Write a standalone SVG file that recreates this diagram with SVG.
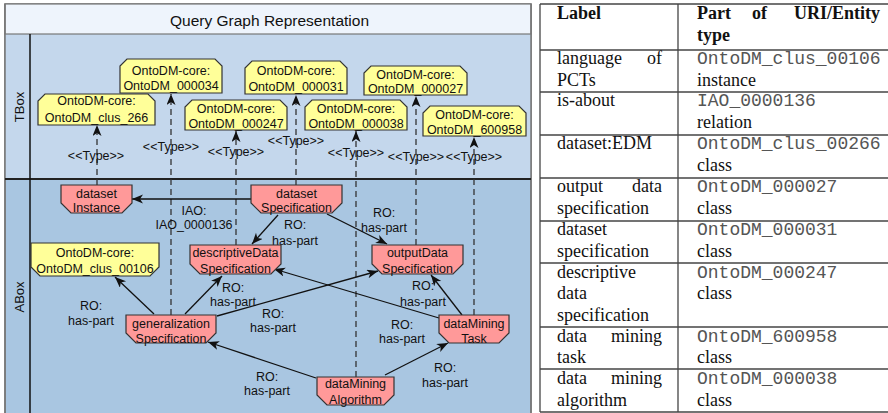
<svg xmlns="http://www.w3.org/2000/svg" width="888" height="413" viewBox="0 0 888 413">
<defs>
<style>
.lbl{font-family:"Liberation Sans",Arial,sans-serif;font-size:12.5px;fill:#111;text-anchor:middle}
.yel{fill:#ffff99;stroke:#333;stroke-width:1.2}
.pink{fill:#ff9999;stroke:#333;stroke-width:1.2}
.dash{stroke:#333;stroke-width:1.3;stroke-dasharray:6 4;fill:none}
.edge{stroke:#111;stroke-width:1.3;fill:none}
.tb{font-family:"Liberation Serif","Times New Roman",serif;font-size:18px;fill:#111}
.tbb{font-family:"Liberation Serif","Times New Roman",serif;font-size:18px;font-weight:bold;fill:#111}
.mono{font-family:"Liberation Mono","Courier New",monospace;font-size:18px;fill:#555}
.tl{stroke:#444;stroke-width:1.3}
</style>
<marker id="arr" markerWidth="12" markerHeight="10" refX="11" refY="4.5" orient="auto" markerUnits="userSpaceOnUse">
<path d="M0,0 L11,4.5 L0,9 L3,4.5 Z" fill="#111"/>
</marker>
</defs>

<g id="frame">
<rect x="5" y="4" width="526" height="415" fill="#a9c6e1" stroke="#777" stroke-width="1.5"/>
<rect x="5" y="34" width="526" height="145" fill="#c4d7ec"/>
<rect x="5" y="4" width="526" height="30" fill="#eef4fc" stroke="#777" stroke-width="1.2"/>
<line x1="5" y1="4" x2="5" y2="413" stroke="#777" stroke-width="1.5"/>
<line x1="531" y1="4" x2="531" y2="413" stroke="#777" stroke-width="1.5"/>
<line x1="5" y1="179" x2="531" y2="179" stroke="#222" stroke-width="2"/>
<line x1="30" y1="34" x2="30" y2="413" stroke="#111" stroke-width="1.5"/>
<text x="269.5" y="26" style="font-family:'Liberation Sans',Arial,sans-serif;font-size:15.5px;fill:#111;text-anchor:middle">Query Graph Representation</text>
<text transform="translate(24,107) rotate(-90)" style="font-family:'Liberation Sans',Arial,sans-serif;font-size:13px;fill:#111;text-anchor:middle">TBox</text>
<text transform="translate(24,297) rotate(-90)" style="font-family:'Liberation Sans',Arial,sans-serif;font-size:13px;fill:#111;text-anchor:middle">ABox</text>
</g>

<g id="connectors">
<line class="dash" x1="97" y1="185" x2="97" y2="125" marker-end="url(#arr)"/>
<line class="dash" x1="171" y1="315" x2="171" y2="94" marker-end="url(#arr)"/>
<line class="dash" x1="236" y1="245" x2="236" y2="131" marker-end="url(#arr)"/>
<line class="dash" x1="296" y1="185" x2="296" y2="95" marker-end="url(#arr)"/>
<line class="dash" x1="356" y1="377" x2="356" y2="131" marker-end="url(#arr)"/>
<line class="dash" x1="416" y1="245" x2="416" y2="96" marker-end="url(#arr)"/>
<line class="dash" x1="474" y1="315" x2="474" y2="137" marker-end="url(#arr)"/>
<text class="lbl" x="96" y="159.5">&lt;&lt;Type&gt;&gt;</text>
<text class="lbl" x="171" y="150.5">&lt;&lt;Type&gt;&gt;</text>
<text class="lbl" x="236" y="155.5">&lt;&lt;Type&gt;&gt;</text>
<text class="lbl" x="296" y="144.5">&lt;&lt;Type&gt;&gt;</text>
<text class="lbl" x="356" y="156.5">&lt;&lt;Type&gt;&gt;</text>
<text class="lbl" x="416" y="160.5">&lt;&lt;Type&gt;&gt;</text>
<text class="lbl" x="474" y="160.5">&lt;&lt;Type&gt;&gt;</text>

<line class="edge" x1="251" y1="199" x2="132" y2="199" marker-end="url(#arr)"/>
<line class="edge" x1="278" y1="215" x2="252" y2="244" marker-end="url(#arr)"/>
<line class="edge" x1="327" y1="214" x2="387" y2="244" marker-end="url(#arr)"/>
<line class="edge" x1="154" y1="314" x2="115" y2="277" marker-end="url(#arr)"/>
<line class="edge" x1="185" y1="314" x2="222" y2="276" marker-end="url(#arr)"/>
<line class="edge" x1="217" y1="316" x2="378" y2="271" marker-end="url(#arr)"/>
<line class="edge" x1="439" y1="318" x2="274" y2="269" marker-end="url(#arr)"/>
<line class="edge" x1="462" y1="315" x2="431" y2="275" marker-end="url(#arr)"/>
<line class="edge" x1="316" y1="378" x2="208" y2="342" marker-end="url(#arr)"/>
<line class="edge" x1="385" y1="375" x2="448" y2="343" marker-end="url(#arr)"/>

<text class="lbl" x="194" y="214.5">IAO:</text>
<text class="lbl" x="194" y="228.5">IAO_0000136</text>
<text class="lbl" x="295" y="228.5">RO:</text>
<text class="lbl" x="295" y="244.5">has-part</text>
<text class="lbl" x="384" y="216.5">RO:</text>
<text class="lbl" x="384" y="231.5">has-part</text>
<text class="lbl" x="91" y="309.5">RO:</text>
<text class="lbl" x="91" y="324.5">has-part</text>
<text class="lbl" x="233" y="291.5">RO:</text>
<text class="lbl" x="233" y="305.5">has-part</text>
<text class="lbl" x="273" y="317.5">RO:</text>
<text class="lbl" x="273" y="331.5">has-part</text>
<text class="lbl" x="402" y="328.5">RO:</text>
<text class="lbl" x="402" y="342.5">has-part</text>
<text class="lbl" x="423" y="289.5">RO:</text>
<text class="lbl" x="423" y="305.5">has-part</text>
<text class="lbl" x="267" y="380.5">RO:</text>
<text class="lbl" x="267" y="394.5">has-part</text>
<text class="lbl" x="445" y="371.5">RO:</text>
<text class="lbl" x="445" y="386.5">has-part</text>
</g>

<g id="t1"><path class="yel" d="M45,94 L148,94 L155,101 L155,125 L38,125 L38,101 Z"/><text class="lbl" x="96.5" y="105">OntoDM-core:</text><text class="lbl" x="96.5" y="121.5">OntoDM_clus_266</text></g>
<g id="t2"><path class="yel" d="M127,59 L215,59 L222,66 L222,93 L120,93 L120,66 Z"/><text class="lbl" x="171" y="74.5">OntoDM-core:</text><text class="lbl" x="171" y="89.5">OntoDM_000034</text></g>
<g id="t3"><path class="yel" d="M192,100 L280,100 L287,107 L287,130 L185,130 L185,107 Z"/><text class="lbl" x="236" y="112.5">OntoDM-core:</text><text class="lbl" x="236" y="127.5">OntoDM_000247</text></g>
<g id="t4"><path class="yel" d="M252,61 L340,61 L347,68 L347,94 L245,94 L245,68 Z"/><text class="lbl" x="296" y="74.5">OntoDM-core:</text><text class="lbl" x="296" y="90.5">OntoDM_000031</text></g>
<g id="t5"><path class="yel" d="M312,100 L400,100 L407,107 L407,130 L305,130 L305,107 Z"/><text class="lbl" x="356" y="112.5">OntoDM-core:</text><text class="lbl" x="356" y="127.5">OntoDM_000038</text></g>
<g id="t6"><path class="yel" d="M371,66 L460,66 L467,73 L467,95 L364,95 L364,73 Z"/><text class="lbl" x="415.5" y="78.5">OntoDM-core:</text><text class="lbl" x="415.5" y="93">OntoDM_000027</text></g>
<g id="t7"><path class="yel" d="M430,106 L519,106 L526,113 L526,136 L423,136 L423,113 Z"/><text class="lbl" x="474.5" y="118.5">OntoDM-core:</text><text class="lbl" x="474.5" y="133.5">OntoDM_600958</text></g>

<g id="a_datasetInstance"><path class="pink" d="M61,185 L132,185 L132,203 L122,213 L71,213 L61,203 Z"/><text class="lbl" x="96.5" y="197.5">dataset</text><text class="lbl" x="96.5" y="212">Instance</text></g>
<g id="a_datasetSpec"><path class="pink" d="M251,185 L342,185 L342,203 L332,213 L261,213 L251,203 Z"/><text class="lbl" x="296.5" y="197.5">dataset</text><text class="lbl" x="296.5" y="212">Specification</text></g>
<g id="a_descSpec"><path class="pink" d="M190,245 L281,245 L281,264 L271,274 L200,274 L190,264 Z"/><text class="lbl" x="235.5" y="256.5">descriptiveData</text><text class="lbl" x="235.5" y="272.5">Specification</text></g>
<g id="a_outSpec"><path class="pink" d="M372,245 L463,245 L463,264 L453,274 L382,274 L372,264 Z"/><text class="lbl" x="417.5" y="256.5">outputData</text><text class="lbl" x="417.5" y="272.5">Specification</text></g>
<g id="a_genSpec"><path class="pink" d="M126,315 L216,315 L216,333 L206,343 L136,343 L126,333 Z"/><text class="lbl" x="171" y="327.5">generalization</text><text class="lbl" x="171" y="342.5">Specification</text></g>
<g id="a_dmTask"><path class="pink" d="M439,315 L509,315 L509,333 L499,343 L449,343 L439,333 Z"/><text class="lbl" x="474" y="327.5">dataMining</text><text class="lbl" x="474" y="342.5">Task</text></g>
<g id="a_dmAlg"><path class="pink" d="M317,377 L394,377 L394,395 L384,405 L327,405 L317,395 Z"/><text class="lbl" x="355.5" y="387.5">dataMining</text><text class="lbl" x="355.5" y="403.5">Algorithm</text></g>
<g id="a_clus00106"><path class="yel" d="M31,243 L159,243 L159,267 L150,276 L40,276 L31,267 Z"/><text class="lbl" x="95" y="256.5">OntoDM-core:</text><text class="lbl" x="95" y="272.5">OntoDM_clus_00106</text></g>

<g id="table">
<line class="tl" x1="540" y1="4" x2="540" y2="412"/>
<line class="tl" x1="678" y1="4" x2="678" y2="412"/>
<line class="tl" x1="540" y1="4" x2="888" y2="4"/>
<line class="tl" x1="540" y1="50" x2="888" y2="50"/>
<line class="tl" x1="540" y1="92" x2="888" y2="92"/>
<line class="tl" x1="540" y1="135" x2="888" y2="135"/>
<line class="tl" x1="540" y1="178" x2="888" y2="178"/>
<line class="tl" x1="540" y1="221" x2="888" y2="221"/>
<line class="tl" x1="540" y1="263" x2="888" y2="263"/>
<line class="tl" x1="540" y1="327" x2="888" y2="327"/>
<line class="tl" x1="540" y1="369" x2="888" y2="369"/>
<line class="tl" x1="540" y1="412" x2="888" y2="412"/>

<text class="tbb" x="557" y="19">Label</text>
<text class="tbb" x="697" y="19">Part</text>
<text class="tbb" x="752" y="19">of</text>
<text class="tbb" x="880" y="19" text-anchor="end">URI/Entity</text>
<text class="tbb" x="697" y="40.5">type</text>

<text class="tb" x="557" y="64">language</text><text class="tb" x="662" y="64" text-anchor="end">of</text>
<text class="tb" x="557" y="85.5">PCTs</text>
<text class="mono" x="697" y="64">OntoDM_clus_00106</text>
<text class="tb" x="697" y="85.5">instance</text>

<text class="tb" x="557" y="106">is-about</text>
<text class="mono" x="697" y="106">IAO_0000136</text>
<text class="tb" x="697" y="127.5">relation</text>

<text class="tb" x="557" y="149">dataset:EDM</text>
<text class="mono" x="697" y="149">OntoDM_clus_00266</text>
<text class="tb" x="697" y="170.5">class</text>

<text class="tb" x="557" y="192">output</text><text class="tb" x="662" y="192" text-anchor="end">data</text>
<text class="tb" x="557" y="213.5">specification</text>
<text class="mono" x="697" y="192">OntoDM_000027</text>
<text class="tb" x="697" y="213.5">class</text>

<text class="tb" x="557" y="235">dataset</text>
<text class="tb" x="557" y="256.5">specification</text>
<text class="mono" x="697" y="235">OntoDM_000031</text>
<text class="tb" x="697" y="256.5">class</text>

<text class="tb" x="557" y="277.5">descriptive</text>
<text class="tb" x="557" y="299">data</text>
<text class="tb" x="557" y="320.5">specification</text>
<text class="mono" x="697" y="277.5">OntoDM_000247</text>
<text class="tb" x="697" y="299">class</text>

<text class="tb" x="557" y="341.5">data</text><text class="tb" x="662" y="341.5" text-anchor="end">mining</text>
<text class="tb" x="557" y="363">task</text>
<text class="mono" x="697" y="341.5">OntoDM_600958</text>
<text class="tb" x="697" y="363">class</text>

<text class="tb" x="557" y="384">data</text><text class="tb" x="662" y="384" text-anchor="end">mining</text>
<text class="tb" x="557" y="405.5">algorithm</text>
<text class="mono" x="697" y="384">OntoDM_000038</text>
<text class="tb" x="697" y="405.5">class</text>
</g>
</svg>
